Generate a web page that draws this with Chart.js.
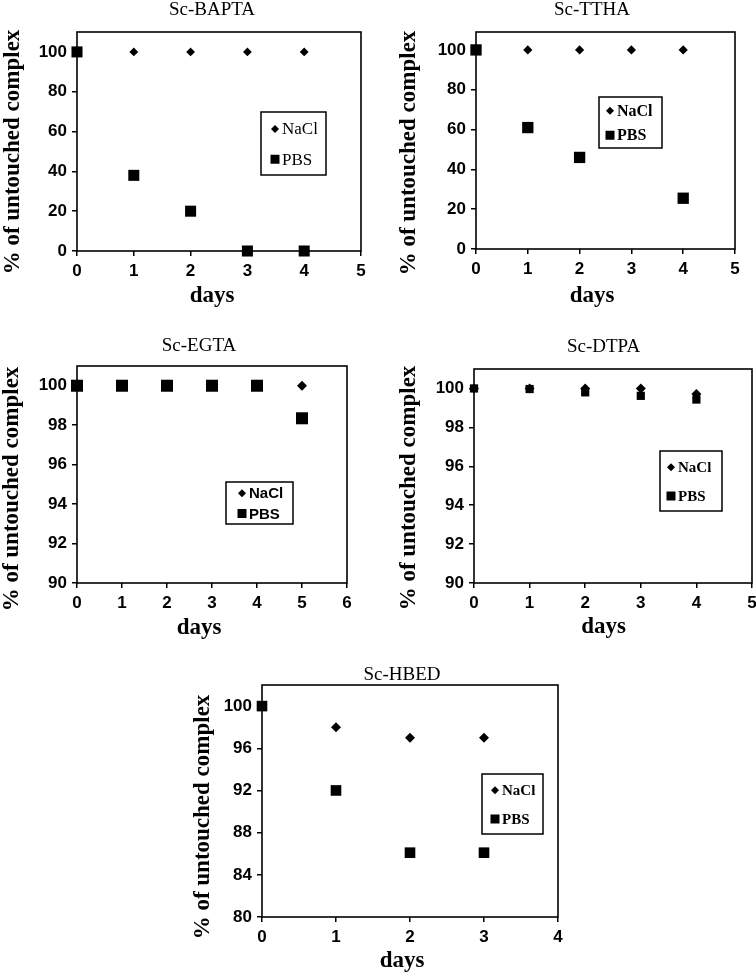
<!DOCTYPE html>
<html>
<head>
<meta charset="utf-8">
<script src="https://cdn.jsdelivr.net/npm/chart.js@4.4.1/dist/chart.umd.min.js"></script>
<style>
  html, body { margin: 0; padding: 0; background: #fff; width: 756px; height: 977px; overflow: hidden; }
  canvas { position: absolute; }
</style>
</head>
<body>
<canvas id="bapta"></canvas>
<canvas id="ttha"></canvas>
<canvas id="egta"></canvas>
<canvas id="dtpa"></canvas>
<canvas id="hbed"></canvas>
<script>
// ------------------------------
// Data
// ------------------------------
const seriesNames = ["NaCl", "PBS"];
const yAxisLabel = "% of untouched complex";
const xAxisLabel = "days";

const baptaDays = [0, 1, 2, 3, 4];
const baptaNacl = [100, 100, 100, 100, 100];
const baptaPbs = [100, 38, 20, 0, 0];

const tthaDays = [0, 1, 2, 3, 4];
const tthaNacl = [100, 100, 100, 100, 100];
const tthaPbsDays = [0, 1, 2, 4];
const tthaPbs = [100, 61, 46, 25.5];

const egtaDays = [0, 1, 2, 3, 4, 5];
const egtaNacl = [100, 100, 100, 100, 100, 100];
const egtaPbs = [100, 100, 100, 100, 100, 98.35];

const dtpaDays = [0, 1, 2, 3, 4];
const dtpaNacl = [100, 100, 100, 100, 99.72];
const dtpaPbs = [100, 99.97, 99.8, 99.62, 99.43];

const hbedDays = [0, 1, 2, 3];
const hbedNacl = [100, 98, 97, 97];
const hbedPbs = [100, 92, 86.1, 86.1];

const ticks0to100 = [0, 20, 40, 60, 80, 100];
const ticks90to100 = [90, 92, 94, 96, 98, 100];
const ticks80to100 = [80, 84, 88, 92, 96, 100];
const days0to4 = [0, 1, 2, 3, 4];
const days0to5 = [0, 1, 2, 3, 4, 5];
const days0to6 = [0, 1, 2, 3, 4, 5, 6];

// ------------------------------
// Panels: layout in page pixels
// ------------------------------
const panels = [
  { id: "bapta", title: "Sc-BAPTA",
    box: { l: 0, t: 0, r: 424, b: 312 }, area: { l: 77, t: 32, r: 361, b: 251 },
    titleY: 10.5, daysY: 296, yLab: { x: 13, y: 152 },
    xMax: 5, xTicks: days0to5, yMin: 0, yMax: 110, yTicks: ticks0to100,
    nacl: [baptaDays, baptaNacl], pbs: [baptaDays, baptaPbs], dr: 4.4, sr: 7.8,
    legend: { l: 261, t: 112, r: 326, b: 175, mx: 14, tx: 21, font: "17px 'Liberation Serif'" } },
  { id: "ttha", title: "Sc-TTHA",
    box: { l: 396, t: 0, r: 788, b: 312 }, area: { l: 476, t: 32, r: 735, b: 249 },
    titleY: 10.5, daysY: 296, yLab: { x: 409, y: 153 },
    xMax: 5, xTicks: days0to5, yMin: 0, yMax: 109, yTicks: ticks0to100,
    nacl: [tthaDays, tthaNacl], pbs: [tthaPbsDays, tthaPbs], dr: 4.6, sr: 8,
    legend: { l: 599, t: 97, r: 662, b: 148, mx: 11, tx: 18, font: "bold 16px 'Liberation Serif'" } },
  { id: "egta", title: "Sc-EGTA",
    box: { l: 0, t: 330, r: 398, b: 644 }, area: { l: 77, t: 366, r: 347, b: 583 },
    titleY: 346.5, daysY: 628, yLab: { x: 12, y: 489 },
    xMax: 6, xTicks: days0to6, yMin: 90, yMax: 101, yTicks: ticks90to100,
    nacl: [egtaDays, egtaNacl], pbs: [egtaDays, egtaPbs], dr: 5, sr: 8.5,
    legend: { l: 226, t: 482, r: 293, b: 524, mx: 16, tx: 23, font: "bold 15px 'Liberation Sans'" } },
  { id: "dtpa", title: "Sc-DTPA",
    box: { l: 396, t: 330, r: 811, b: 644 }, area: { l: 474, t: 369, r: 752, b: 583 },
    titleY: 347.5, daysY: 627, yLab: { x: 409, y: 488 },
    xMax: 5, xTicks: days0to5, yMin: 90, yMax: 101, yTicks: ticks90to100,
    nacl: [dtpaDays, dtpaNacl], pbs: [dtpaDays, dtpaPbs], dr: 5, sr: 5.8,
    legend: { l: 660, t: 451, r: 722, b: 511, mx: 11, tx: 18, font: "bold 15px 'Liberation Serif'" } },
  { id: "hbed", title: "Sc-HBED",
    box: { l: 190, t: 655, r: 614, b: 977 }, area: { l: 262, t: 685, r: 558, b: 917 },
    titleY: 675.5, daysY: 961, yLab: { x: 203, y: 817 },
    xMax: 4, xTicks: days0to4, yMin: 80, yMax: 102, yTicks: ticks80to100,
    nacl: [hbedDays, hbedNacl], pbs: [hbedDays, hbedPbs], dr: 5, sr: 7.5,
    legend: { l: 482, t: 774, r: 543, b: 834, mx: 13, tx: 20, font: "bold 15px 'Liberation Serif'" } }
];

const TITLE_FS = 19, DAYS_FS = 23, YLAB_FS = 23;
const serif = "'Liberation Serif', 'Times New Roman', serif";
const tickFont = { family: "'Liberation Sans', Arial, sans-serif", size: 17, weight: "bold" };

// ------------------------------
// Plugins: full plot frame, rotated y label, boxed legend inside the plot
// ------------------------------
const plotFrame = {
  id: "plotFrame",
  beforeDatasetsDraw(chart) {
    const { ctx, chartArea: a } = chart;
    ctx.save();
    ctx.strokeStyle = "#000";
    ctx.lineWidth = 1.6;
    ctx.strokeRect(a.left, a.top, a.right - a.left, a.bottom - a.top);
    ctx.restore();
  }
};

// y label sits a little below the plot centre in the original, so it is drawn here
const sideLabel = {
  id: "sideLabel",
  afterDraw(chart, args, o) {
    const ctx = chart.ctx;
    ctx.save();
    ctx.translate(o.x - o.ox, o.y - o.oy);
    ctx.rotate(-Math.PI / 2);
    ctx.fillStyle = "#000";
    ctx.font = "bold " + YLAB_FS + "px " + serif;
    ctx.textAlign = "center";
    ctx.textBaseline = "middle";
    ctx.fillText(o.text, 0, 0);
    ctx.restore();
  }
};

const boxLegend = {
  id: "boxLegend",
  afterDraw(chart, args, o) {
    const ctx = chart.ctx;
    const x = o.l - o.ox, y = o.t - o.oy, w = o.r - o.l, h = o.b - o.t;
    ctx.save();
    ctx.fillStyle = "#fff";
    ctx.fillRect(x, y, w, h);
    ctx.strokeStyle = "#000";
    ctx.lineWidth = 1.5;
    ctx.strokeRect(x, y, w, h);
    ctx.fillStyle = "#000";
    ctx.font = o.font;
    ctx.textBaseline = "middle";
    ctx.textAlign = "left";
    const rows = [0.27, 0.75];
    chart.data.datasets.forEach((ds, i) => {
      const cy = y + h * rows[i];
      const cx = x + o.mx;
      ctx.beginPath();
      if (ds.pointStyle === "rectRot") {
        const r = 4;
        ctx.moveTo(cx - r, cy); ctx.lineTo(cx, cy - r);
        ctx.lineTo(cx + r, cy); ctx.lineTo(cx, cy + r);
        ctx.closePath();
      } else {
        ctx.rect(cx - 4.5, cy - 4.5, 9, 9);
      }
      ctx.fill();
      ctx.fillText(ds.label, x + o.tx, cy + 1);
    });
    ctx.restore();
  }
};

function points(pair) {
  const [xs, ys] = pair;
  return xs.map((d, i) => ({ x: d, y: ys[i] }));
}

function makeChart(p) {
  const canvas = document.getElementById(p.id);
  const w = p.box.r - p.box.l, h = p.box.b - p.box.t;
  canvas.width = w;
  canvas.height = h;
  canvas.style.left = p.box.l + "px";
  canvas.style.top = p.box.t + "px";

  const titlePadTop = Math.max(0, p.titleY - p.box.t - TITLE_FS / 2);
  const titlePadBottom = Math.max(0, p.area.t - p.box.t - titlePadTop - TITLE_FS);
  const daysPadBottom = p.box.b - p.daysY - DAYS_FS / 2;
  const xAxisH = p.box.b - DAYS_FS - daysPadBottom - p.area.b;

  new Chart(canvas, {
    type: "scatter",
    data: {
      datasets: [
        { label: seriesNames[0], data: points(p.nacl), pointStyle: "rectRot", pointRadius: p.dr,
          pointHoverRadius: p.dr, backgroundColor: "#000", borderColor: "#000", borderWidth: 0,
          order: 2, clip: false },
        { label: seriesNames[1], data: points(p.pbs), pointStyle: "rect", pointRadius: p.sr,
          pointHoverRadius: p.sr, backgroundColor: "#000", borderColor: "#000", borderWidth: 0,
          order: 1, clip: false }
      ]
    },
    options: {
      responsive: false,
      animation: false,
      events: [],
      layout: { padding: 0 },
      plugins: {
        legend: { display: false },
        tooltip: { enabled: false },
        title: {
          display: true, text: p.title, color: "#000",
          font: { family: serif, size: TITLE_FS, weight: "normal", lineHeight: 1 },
          padding: { top: titlePadTop, bottom: titlePadBottom }
        },
        subtitle: {
          display: true, position: "bottom", text: xAxisLabel, color: "#000",
          font: { family: serif, size: DAYS_FS, weight: "bold", lineHeight: 1 },
          padding: { top: 0, bottom: daysPadBottom }
        },
        sideLabel: { text: yAxisLabel, x: p.yLab.x, y: p.yLab.y, ox: p.box.l, oy: p.box.t },
        boxLegend: Object.assign({ ox: p.box.l, oy: p.box.t }, p.legend)
      },
      scales: {
        x: {
          type: "linear", position: "bottom", min: 0, max: p.xMax,
          afterBuildTicks: s => { s.ticks = p.xTicks.map(v => ({ value: v })); },
          afterFit: s => { s.height = xAxisH; },
          grid: { display: true, drawOnChartArea: false, drawTicks: true, tickLength: 5, color: "#000", lineWidth: 1.5 },
          border: { display: false },
          ticks: { color: "#000", font: tickFont, padding: 5, maxRotation: 0 }
        },
        y: {
          type: "linear", position: "left", min: p.yMin, max: p.yMax,
          afterBuildTicks: s => { s.ticks = p.yTicks.map(v => ({ value: v })); },
          afterFit: s => { s.width = p.area.l - p.box.l; },
          grid: { display: true, drawOnChartArea: false, drawTicks: true, tickLength: 5, color: "#000", lineWidth: 1.5 },
          border: { display: false },
          ticks: { color: "#000", font: tickFont, padding: 5 }
        },
        yR: {
          type: "linear", position: "right", min: 0, max: 1,
          afterFit: s => { s.width = p.box.r - p.area.r; },
          grid: { display: false },
          border: { display: false },
          ticks: { display: false }
        }
      }
    },
    plugins: [plotFrame, sideLabel, boxLegend]
  });
}

panels.forEach(makeChart);
</script>
</body>
</html>
